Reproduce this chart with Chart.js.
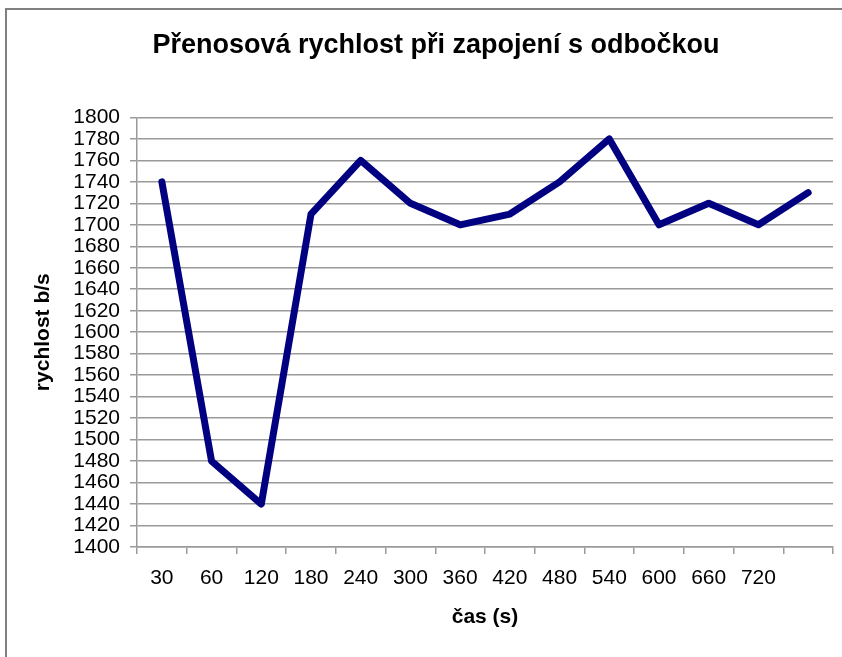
<!DOCTYPE html>
<html>
<head>
<meta charset="utf-8">
<script src="https://cdn.jsdelivr.net/npm/chart.js@4/dist/chart.umd.min.js"></script>
<style>
html,body{margin:0;padding:0;background:#fff;}
#wrap{width:842px;height:657px;}
</style>
</head>
<body>
<div id="wrap"><canvas id="c" width="842" height="657"></canvas></div>
<script>
const categories = ['30','60','120','180','240','300','360','420','480','540','600','660','720',''];
const speedValues = [1740,1480,1440,1710,1760,1720,1700,1710,1740,1780,1700,1720,1700,1730];
const yMin = 1400, yMax = 1800, yStep = 20;
const chartTitle = 'Přenosová rychlost při zapojení s odbočkou';
const xTitle = 'čas (s)';
const yTitle = 'rychlost b/s';

const FONT = '"Liberation Sans", Arial, sans-serif';
const GRID = '#9a9a9a';

const frame = {
  id: 'frame',
  beforeDraw(chart) {
    const ctx = chart.ctx;
    ctx.save();
    ctx.fillStyle = '#fff';
    ctx.fillRect(0, 0, chart.width, chart.height);
    ctx.strokeStyle = '#808080';
    ctx.lineWidth = 2;
    ctx.beginPath();
    ctx.moveTo(6, 657);
    ctx.lineTo(6, 9);
    ctx.lineTo(842, 9);
    ctx.stroke();
    ctx.restore();
  }
};

new Chart(document.getElementById('c'), {
  type: 'line',
  data: {
    labels: categories,
    datasets: [{
      data: speedValues,
      borderColor: '#000080',
      borderWidth: 7,
      pointRadius: 0,
      tension: 0,
      borderCapStyle: 'round',
      borderJoinStyle: 'round'
    }]
  },
  plugins: [frame],
  options: {
    responsive: false,
    animation: false,
    devicePixelRatio: 1,
    layout: { padding: { left: 39, right: 9, top: 0, bottom: 0 } },
    plugins: {
      legend: { display: false },
      tooltip: { enabled: false },
      title: {
        display: true,
        text: chartTitle,
        color: '#000',
        font: { family: FONT, size: 27, weight: 'bold', lineHeight: 1.2 },
        padding: { top: 29, bottom: 56 }
      }
    },
    scales: {
      x: {
        offset: true,
        afterFit(s) { s.height = 110; },
        grid: {
          offset: true,
          drawOnChartArea: false,
          drawTicks: true,
          tickLength: 7,
          color: GRID,
          lineWidth: 1.5
        },
        border: { display: true, color: GRID, width: 1.5 },
        ticks: {
          color: '#000',
          font: { family: FONT, size: 21 },
          padding: 12,
          maxRotation: 0,
          autoSkip: false
        },
        title: {
          display: true,
          text: xTitle,
          color: '#000',
          font: { family: FONT, size: 21, weight: 'bold', lineHeight: 1.2 },
          padding: { top: 0, bottom: 27 }
        }
      },
      y: {
        min: yMin,
        max: yMax,
        afterFit(s) { s.width = 98; },
        grid: {
          color: GRID,
          lineWidth: 1.5,
          drawTicks: true,
          tickLength: 7
        },
        border: { display: true, color: GRID, width: 1.5 },
        ticks: {
          stepSize: yStep,
          autoSkip: false,
          color: '#000',
          font: { family: FONT, size: 21 },
          padding: 10,
          callback: (v) => String(v)
        },
        title: {
          display: true,
          text: yTitle,
          color: '#000',
          font: { family: FONT, size: 21, weight: 'bold', lineHeight: 1.2 },
          padding: { top: -8, bottom: 0 }
        }
      }
    }
  }
});
</script>
</body>
</html>
